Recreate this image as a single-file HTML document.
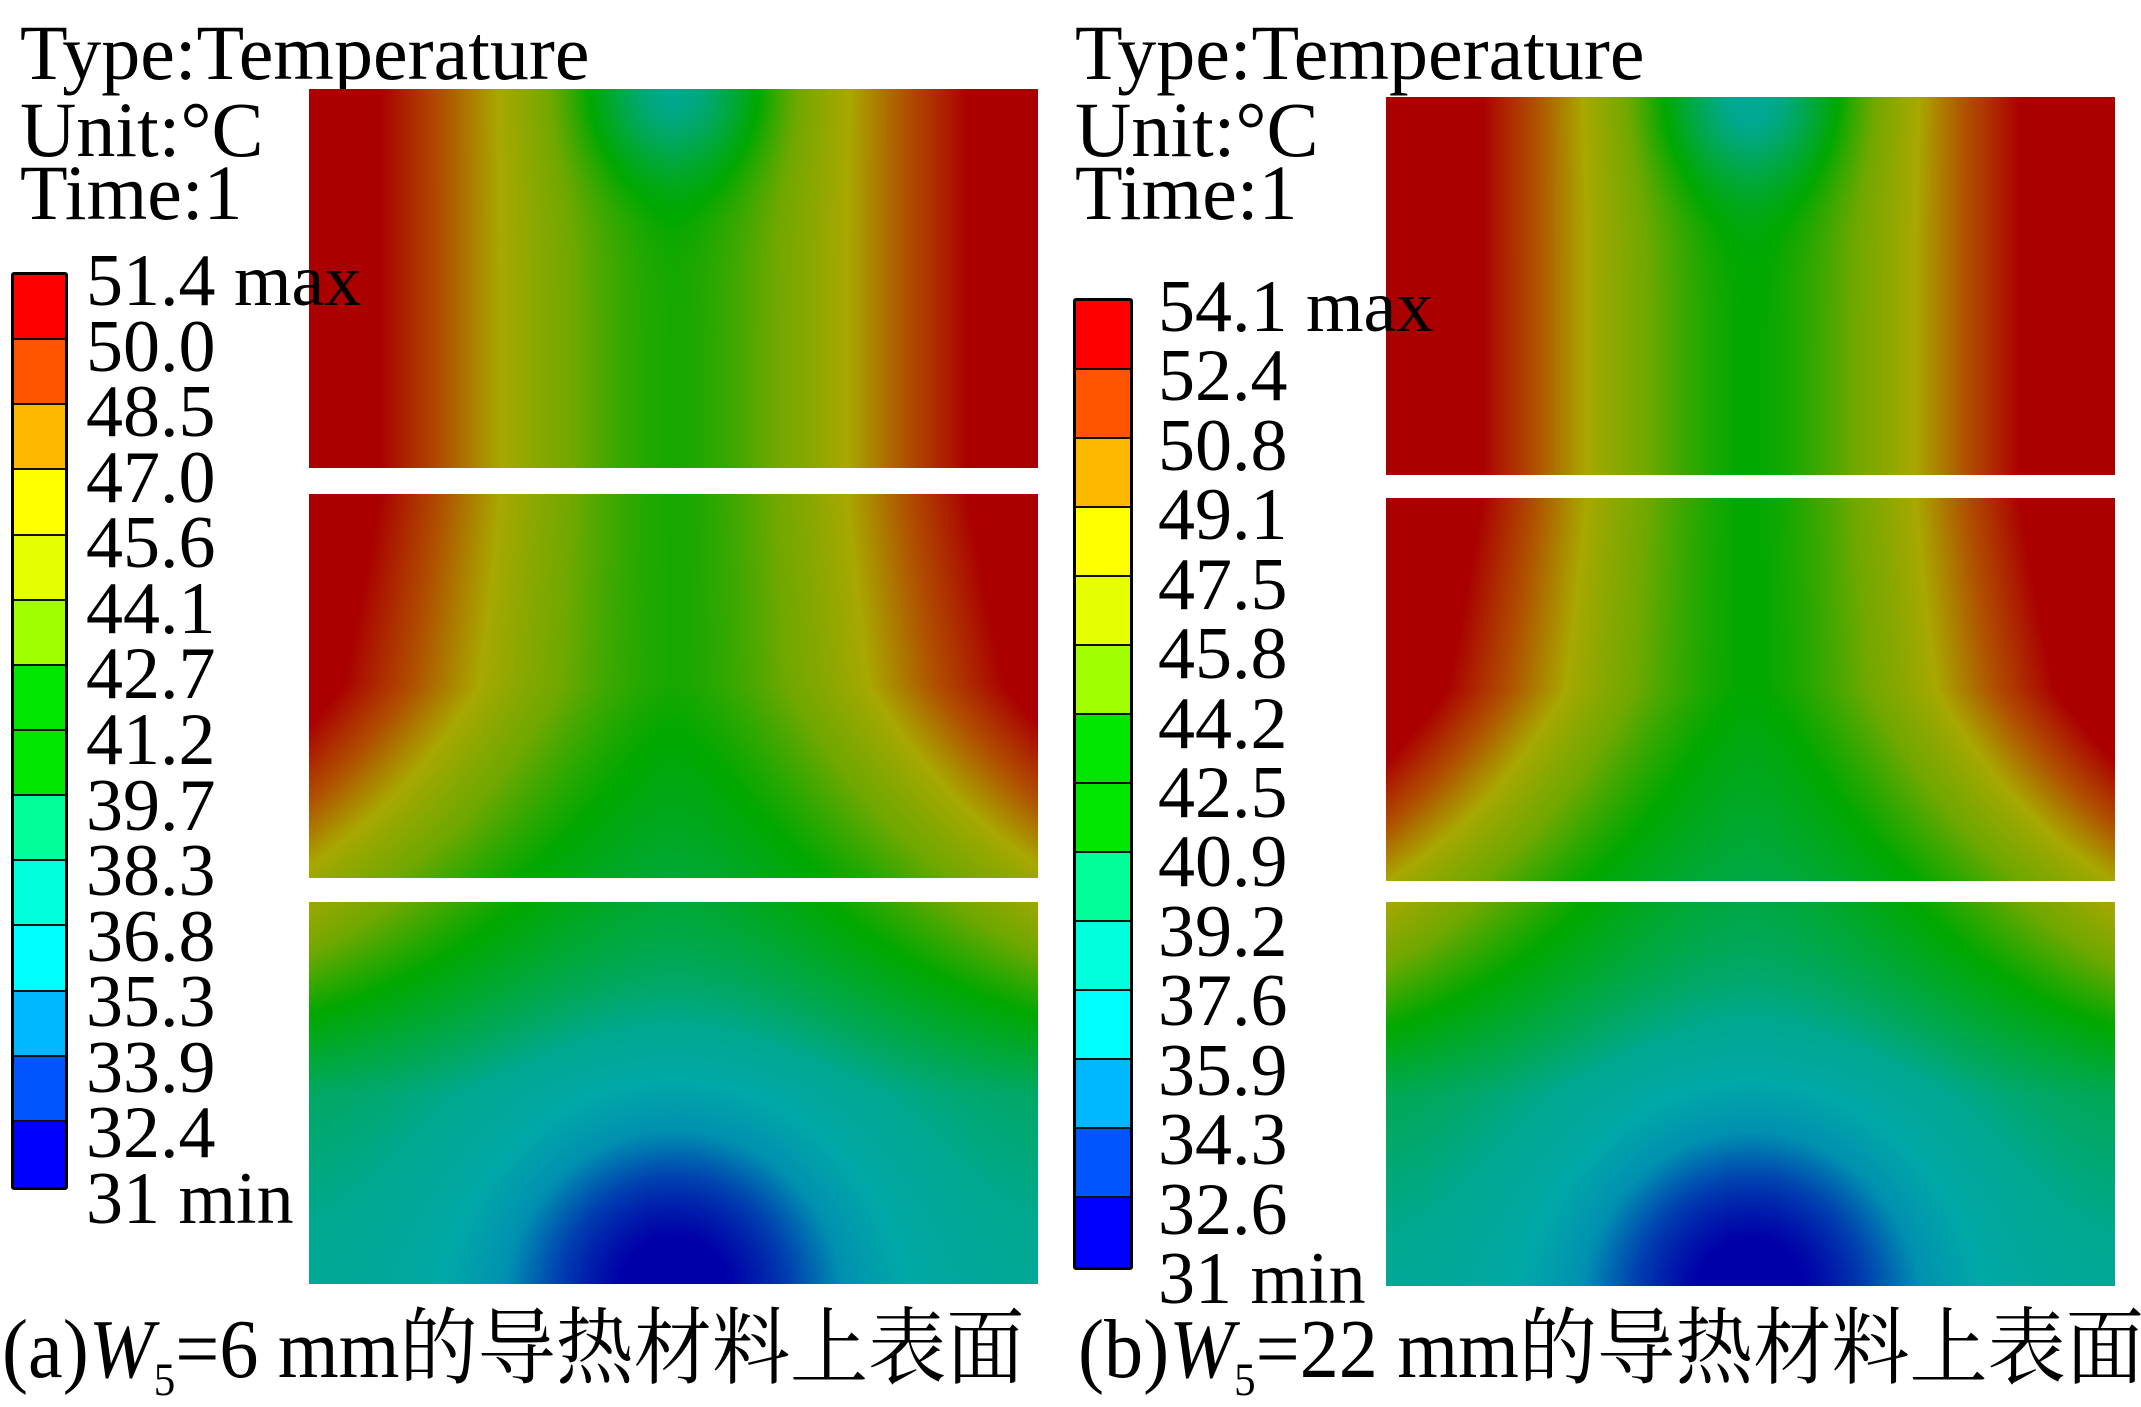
<!DOCTYPE html>
<html><head><meta charset="utf-8">
<style>
html,body{margin:0;padding:0;background:#fff;}
#root{position:relative;width:2141px;height:1407px;overflow:hidden;background:#fff;font-family:"Liberation Serif","Noto Serif CJK SC",serif;color:#000;}
.t{position:absolute;white-space:nowrap;line-height:1;}
.hdr{font-size:78px;}
.lab{font-size:74px;}
canvas{position:absolute;}
.cb{position:absolute;border:3px solid #000;border-radius:3px;box-sizing:border-box;}
.band{position:absolute;left:0;right:0;border-bottom:2px solid #111;box-sizing:border-box;}
.cap{font-size:84px;transform:scaleX(0.93);transform-origin:left;}
</style></head>
<body>
<div id="root">
  <div class="t hdr" style="left:20px;top:14px">Type:Temperature</div>
  <div class="t hdr" style="left:20px;top:91px">Unit:°C</div>
  <div class="t hdr" style="left:20px;top:154px">Time:1</div>
  <div class="t hdr" style="left:1075px;top:14px">Type:Temperature</div>
  <div class="t hdr" style="left:1075px;top:91px">Unit:°C</div>
  <div class="t hdr" style="left:1075px;top:154px">Time:1</div>
  <div class="t cap" style="left:2px;top:1308px">(a)<i>W</i><sub style="font-size:55%">5</sub>=6 mm的导热材料上表面</div>
  <div class="t cap" style="left:1078px;top:1308px">(b)<i>W</i><sub style="font-size:55%">5</sub>=22 mm的导热材料上表面</div>
</div>
<script>
const labelsA = ["51.4 max","50.0","48.5","47.0","45.6","44.1","42.7","41.2","39.7","38.3","36.8","35.3","33.9","32.4","31 min"];
const labelsB = ["54.1 max","52.4","50.8","49.1","47.5","45.8","44.2","42.5","40.9","39.2","37.6","35.9","34.3","32.6","31 min"];
const bandColors = ["#ff0000","#ff5500","#ffb800","#ffff00","#e6ff00","#a0ff00","#00e600","#00e600","#00ff99","#00ffdd","#00ffff","#00b8ff","#0055ff","#0000ff"];
const mapT = [0,0.1,0.2,0.3,0.4,0.5,0.58,0.68,0.78,0.88,1];
const mapC = [[0,0,168],[0,64,176],[0,144,176],[0,168,168],[0,168,144],[0,168,64],[0,168,0],[112,168,0],[168,168,0],[176,80,0],[170,0,0]];
const profY = [0,1,1.5,2,2.5,3];
const baseA = [0.6,0.6,0.6,0.52,0.44,0.42];
const hotA  = [0.55,0.55,0.46,0.24,0.02,-0.03];
const baseB = [0.58,0.58,0.58,0.5,0.44,0.42];
const hotB  = [0.66,0.66,0.55,0.28,0.04,-0.03];

const root = document.getElementById('root');
function interp(xs, ys, x){
  if(x<=xs[0]) return ys[0];
  for(let i=1;i<xs.length;i++){ if(x<=xs[i]){const f=(x-xs[i-1])/(xs[i]-xs[i-1]);return ys[i-1]+f*(ys[i]-ys[i-1]);} }
  return ys[ys.length-1];
}
function color(t){
  t=Math.max(0,Math.min(1,t));
  for(let i=1;i<mapT.length;i++){ if(t<=mapT[i]){const f=(t-mapT[i-1])/(mapT[i]-mapT[i-1]);const a=mapC[i-1],b=mapC[i];return [a[0]+f*(b[0]-a[0]),a[1]+f*(b[1]-a[1]),a[2]+f*(b[2]-a[2])];} }
  return mapC[mapC.length-1];
}
function field(X,Y,base,hot){
  const a=Math.min(1,Math.abs(X)/0.5);
  let t=interp(profY,base,Y)+interp(profY,hot,Y)*Math.pow(a,1.5);
  t-=0.2*Math.exp(-(X*X/0.015+Y*Y/0.05));
  t-=0.45*Math.exp(-(X*X/0.07+(Y-3)*(Y-3)/0.25));
  return t;
}
function drawColumn(blocks, base, hot, id){
  blocks.forEach((b,k)=>{
    const c=document.createElement('canvas');
    
    
    c.width=b[2]; c.height=b[3];
    c.style.left=b[0]+'px'; c.style.top=b[1]+'px';
    const ctx=c.getContext('2d'); const img=ctx.createImageData(b[2],b[3]);
    for(let y=0;y<b[3];y++){ const Y=k+y/b[3];
      for(let x=0;x<b[2];x++){ const X=x/b[2]-0.5;
        const col=color(field(X,Y,base,hot)); const i=(y*b[2]+x)*4;
        img.data[i]=col[0];img.data[i+1]=col[1];img.data[i+2]=col[2];img.data[i+3]=255; } }
    ctx.putImageData(img,0,0); root.appendChild(c);
  });
}
function drawBar(x,top,w,h,labels,lx,id){
  const bar=document.createElement('div'); bar.className='cb';
  
  
  bar.style.left=x+'px'; bar.style.top=top+'px'; bar.style.width=w+'px'; bar.style.height=h+'px';
  const n=bandColors.length, bh=(h-6)/n;
  bandColors.forEach((c,i)=>{const d=document.createElement('div');d.className='band';
    
    
    d.style.top=(i*bh)+'px';d.style.height=bh+'px';d.style.background=c;if(i===n-1)d.style.borderBottom='none';bar.appendChild(d);});
  root.appendChild(bar);
  labels.forEach((s,i)=>{const t=document.createElement('div');t.className='t lab';
    
    
    t.textContent=s;t.style.left=lx+'px';t.style.top=(top+i*(h/n)-28)+'px';root.appendChild(t);});
}
drawColumn([[309,89,729,379],[309,494,729,384],[309,902,729,382]],baseA,hotA,'panel-a');
drawColumn([[1386,97,729,378],[1386,498,729,383],[1386,902,729,384]],baseB,hotB,'panel-b');
drawBar(11,272,57,918,labelsA,86,'panel-a');
drawBar(1073,298,60,972,labelsB,1158,'panel-b');
</script>
</body></html>
